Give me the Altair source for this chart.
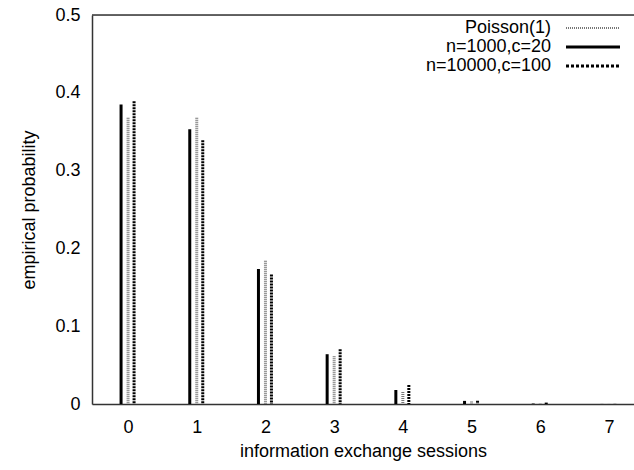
import altair as alt
import pandas as pd

# Number of information exchange sessions per node
sessions = [0, 1, 2, 3, 4, 5, 6, 7]

# Empirical probabilities for each setting
poisson = [0.368, 0.368, 0.184, 0.0613, 0.0153, 0.0031, 0.0005, 0.0001]
n1000_c20 = [0.385, 0.353, 0.1735, 0.064, 0.018, 0.004, 0.0006, 0.0001]
n10000_c100 = [0.389, 0.339, 0.1665, 0.0705, 0.0245, 0.0042, 0.0018, 0.0002]

series_names = ["Poisson(1)", "n=1000,c=20", "n=10000,c=100"]

FONT = "Liberation Sans"
FS = 18
W, H = 542, 389

rows = []
for name, vals in zip(series_names, [poisson, n1000_c20, n10000_c100]):
    for s, v in zip(sessions, vals):
        rows.append({"series": name, "sessions": s, "prob": v})
df = pd.DataFrame(rows)

x_scale = alt.Scale(domain=[-0.525, 7.365], nice=False, zero=False)
y_scale = alt.Scale(domain=[0, 0.5], nice=False)

x_axis = alt.Axis(
    values=sessions, ticks=False, grid=False, labelAngle=0,
    labelFont=FONT, labelFontSize=FS, labelColor="#000", labelPadding=14,
    titleFont=FONT, titleFontSize=FS, titleFontWeight="normal", titleColor="#000",
    titlePadding=6, domainColor="#333", domainWidth=1.5,
)
y_axis = alt.Axis(
    values=[0, 0.1, 0.2, 0.3, 0.4, 0.5], format="~g", ticks=False, grid=False,
    labelFont=FONT, labelFontSize=FS, labelColor="#000", labelPadding=12,
    titleFont=FONT, titleFontSize=FS, titleFontWeight="normal", titleColor="#000",
    titlePadding=16, domainColor="#333", domainWidth=1.5,
)

# style per series: (pixel offset from the tick, colour, bar dash, legend dash)
styles = {
    "Poisson(1)": (0, "#777777", [1, 1], [1, 1]),
    "n=1000,c=20": (-7, "#000000", None, None),
    "n=10000,c=100": (6, "#000000", [2, 1], [3, 2]),
}

layers = []
for name in series_names:
    off, color, dash, _ = styles[name]
    kw = dict(color=color, strokeWidth=3, xOffset=off)
    if dash:
        kw["strokeDash"] = dash
    layers.append(
        alt.Chart(df[df.series == name]).mark_rule(**kw).encode(
            x=alt.X("sessions:Q", scale=x_scale, axis=x_axis,
                    title="information exchange sessions"),
            y=alt.Y("prob:Q", scale=y_scale, axis=y_axis,
                    title="empirical probability"),
            y2=alt.datum(0),
        )
    )

# top frame line
top = alt.Chart(pd.DataFrame({"v": [0.5]})).mark_rule(
    color="#333", strokeWidth=1.5
).encode(y=alt.Y("v:Q", scale=y_scale), x=alt.value(0), x2=alt.value(W))

# legend in the upper right corner
leg_df = pd.DataFrame({"series": series_names, "row": [0, 1, 2]})
legend_layers = []
for i, name in enumerate(series_names):
    _, color, _, ldash = styles[name]
    ypix = 13 + 19 * i
    legend_layers.append(
        alt.Chart(leg_df[leg_df.series == name]).mark_text(
            align="right", baseline="middle", font=FONT, fontSize=FS, color="#000"
        ).encode(text="series:N", x=alt.value(459), y=alt.value(ypix))
    )
    kw = dict(color=color, strokeWidth=3 if name != "Poisson(1)" else 2)
    if ldash:
        kw["strokeDash"] = ldash
    legend_layers.append(
        alt.Chart(leg_df[leg_df.series == name]).mark_rule(**kw).encode(
            x=alt.value(474), x2=alt.value(528), y=alt.value(ypix)
        )
    )

chart = alt.layer(*layers, top, *legend_layers).properties(
    width=W, height=H,
    padding={"left": 92, "top": 15, "right": 0, "bottom": 66},
    autosize=alt.AutoSizeParams(type="none"),
).configure_view(stroke=None).configure(background="white")

chart.save("out.html", embed_options={"renderer": "svg", "actions": False})
